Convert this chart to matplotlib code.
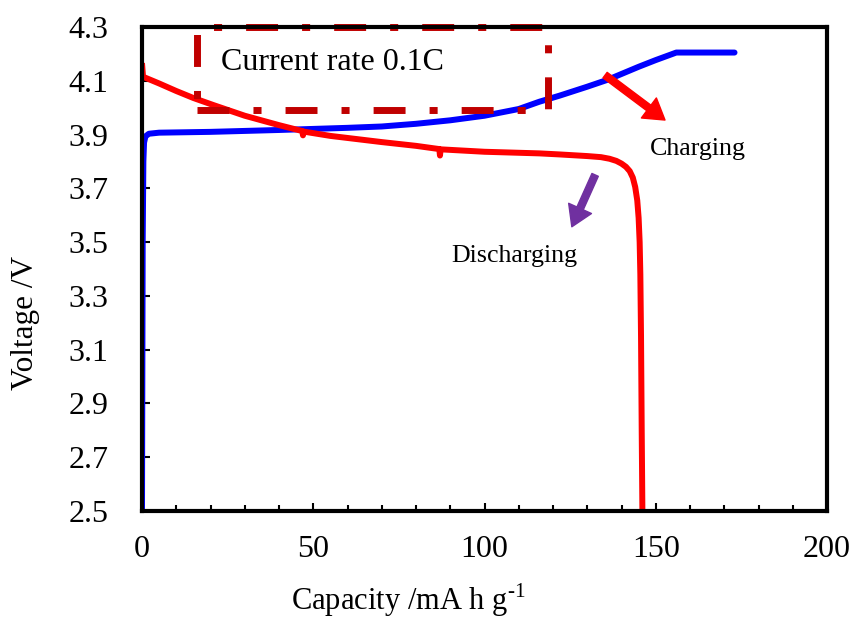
import matplotlib
matplotlib.use("Agg")
import matplotlib.pyplot as plt
from matplotlib.patches import Rectangle
from matplotlib.ticker import MultipleLocator

plt.rcParams['font.family'] = ['Liberation Serif', 'DejaVu Serif']
plt.rcParams['mathtext.fontset'] = 'custom'
plt.rcParams['mathtext.rm'] = 'Liberation Serif'
plt.rcParams['lines.scale_dashes'] = False

# Charge curve (capacity in mA h/g, voltage in V)
charge_cap = [0, 0.2, 0.4, 0.6, 1.0, 2, 5, 20, 40, 60, 70, 80, 90, 100, 110,
              116, 122, 130, 136, 145, 150, 156, 173]
charge_v = [2.5, 3.5, 3.8, 3.87, 3.893, 3.903, 3.907, 3.91, 3.917, 3.925, 3.93,
            3.94, 3.953, 3.97, 3.995, 4.022, 4.045, 4.078, 4.104, 4.152, 4.177,
            4.205, 4.205]

# Discharge curve
discharge_cap = [0, 0.3, 5, 10, 15, 21, 30, 40, 46.8, 47.0, 47.2, 55, 70, 80,
                 86.8, 87.0, 87.2, 100, 116, 122, 130, 134, 136.5, 138.5, 140,
                 141.3, 142.4, 143.3, 144.0, 144.6, 145.0, 145.3, 145.5, 145.7,
                 145.9, 146.1]
discharge_v = [4.166, 4.115, 4.09, 4.062, 4.036, 4.009, 3.97, 3.935, 3.913, 3.897,
               3.911, 3.895, 3.872, 3.858, 3.846, 3.822, 3.845, 3.836, 3.83,
               3.826, 3.82, 3.816, 3.81, 3.802, 3.792, 3.78, 3.764, 3.74,
               3.705, 3.655, 3.59, 3.5, 3.38, 3.15, 2.8, 2.5]

x_ticks = [0, 50, 100, 150, 200]
y_ticks = [2.5, 2.7, 2.9, 3.1, 3.3, 3.5, 3.7, 3.9, 4.1, 4.3]

fig = plt.figure(figsize=(8.51, 6.18), dpi=100)
ax = fig.add_axes([142 / 851, 1 - 511 / 618, 685 / 851, 484 / 618])

ax.plot(charge_cap, charge_v, color='#0000FF', lw=4.3, solid_joinstyle='round',
        solid_capstyle='round', zorder=3)
ax.plot(discharge_cap, discharge_v, color='#FF0000', lw=4.3, solid_joinstyle='round',
        solid_capstyle='butt', zorder=4)

ax.set_xlim(0, 200)
ax.set_ylim(2.5, 4.3)
ax.set_xticks(x_ticks)
ax.set_yticks(y_ticks)
ax.set_yticklabels([f"{v:.1f}" for v in y_ticks])
ax.xaxis.set_minor_locator(MultipleLocator(10))

ax.tick_params(axis='both', which='major', direction='in', labelsize=23,
               width=1.5, length=6, top=False, right=False)
ax.tick_params(axis='x', which='major', pad=17)
ax.tick_params(axis='y', which='major', pad=24)
ax.tick_params(axis='x', which='minor', direction='in', width=1.5, length=4,
               top=False)
for s in ax.spines.values():
    s.set_linewidth(3)
    s.set_zorder(6)

ax.set_xlabel('Capacity /mA h g$^{\u20101}$', fontsize=22)
ax.xaxis.label.set_va('baseline')
ax.xaxis.set_label_coords((408 - 142) / 685, -(610 - 511) / 484)
ax.set_ylabel('Voltage /V', fontsize=22.5)
ax.yaxis.label.set_va('center')
ax.yaxis.set_label_coords((25 - 142) / 685, (511 - 323) / 484)

# Dash-dot frame around the current-rate note
frame = Rectangle((16.1, 3.99), 118.5 - 16.1, 4.3 - 3.99, fill=False,
                  edgecolor='#C00000', lw=5.0, clip_on=False, zorder=5,
                  capstyle='butt', joinstyle='miter')
frame.set_linestyle((0, (23, 17.3, 5.8, 17.3)))
ax.add_patch(frame)

ax.text(23.0, 4.14, 'Current rate 0.1C', fontsize=23, ha='left', va='baseline')
ax.text(148.3, 3.824, 'Charging', fontsize=18.7, ha='left', va='baseline')
ax.text(90.4, 3.427, 'Discharging', fontsize=18.7, ha='left', va='baseline')

arrow_style = 'simple,head_length=1.45,head_width=1.8,tail_width=0.5'
ax.annotate('', xy=(152.7, 3.954), xytext=(135.2, 4.121),
            arrowprops=dict(arrowstyle=arrow_style, color='#FF0000',
                            shrinkA=0, shrinkB=0, mutation_scale=10), zorder=5)
ax.annotate('', xy=(125.5, 3.557), xytext=(132.3, 3.75),
            arrowprops=dict(arrowstyle=arrow_style, color='#7030A0',
                            shrinkA=0, shrinkB=0, mutation_scale=10), zorder=5)

fig.savefig('out.png', dpi=100)
